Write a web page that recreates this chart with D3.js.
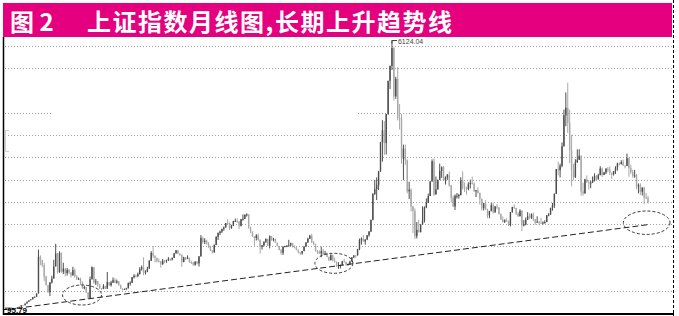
<!DOCTYPE html>
<html>
<head>
<meta charset="utf-8">
<script src="https://cdn.jsdelivr.net/npm/d3@7"></script>
<style>
  html, body { margin: 0; padding: 0; background: #fff; }
  svg { display: block; }
</style>
</head>
<body>
<div id="chart"></div>
<script>
/**
 * 上证指数月线图 (1990-12 .. 2018-12), monthly candles + long-term trend line.
 * One row per year in every array, first row is Dec 1990 alone.
 */

const TITLE_NO = '图 2';
const TITLE = '上证指数月线图,长期上升趋势线';

const opens = [
  96,
  128,130,133,120,114,115,138,145,181,180,219,260,
  293,313,364,371,445,1266,1195,1082,823,631,474,690,
  780,1052,1346,925,1358,935,1007,899,974,918,849,966,
  834,768,777,693,564,588,467,333,762,1033,693,715,
  648,562,549,614,553,700,630,688,741,687,718,628,
  555,537,545,562,678,684,810,843,835,879,986,1032,
  917,934,1003,1179,1354,1292,1243,1170,1165,1097,1180,1179,
  1194,1226,1206,1243,1343,1411,1339,1316,1151,1253,1217,1248,
  1147,1135,1090,1158,1120,1279,1689,1601,1627,1557,1496,1412,
  1367,1535,1715,1800,1836,1894,1928,2023,2021,1910,1961,2070,
  2073,2066,1960,2112,2119,2214,2218,1920,1834,1724,1690,1747,
  1646,1491,1524,1603,1667,1515,1732,1649,1670,1581,1507,1420,
  1357,1499,1511,1511,1521,1576,1487,1477,1421,1367,1348,1397,
  1497,1590,1675,1741,1595,1555,1399,1386,1342,1396,1320,1340,
  1266,1191,1306,1181,1159,1060,1080,1083,1162,1155,1092,1099,
  1161,1258,1299,1298,1440,1641,1672,1612,1658,1752,1837,2099,
  2675,2786,2881,3183,3841,4109,3820,4471,5218,5552,5955,4871,
  5262,4383,4348,3472,3693,3433,2736,2775,2397,2293,1729,1872,
  1821,1991,2082,2373,2477,2632,2959,3412,2667,2779,2996,3195,
  3277,2989,3051,3109,2870,2592,2398,2637,2638,2656,2979,2820,
  2808,2790,2905,2928,2911,2743,2762,2701,2567,2359,2468,2333,
  2199,2292,2428,2263,2396,2373,2225,2103,2047,2086,2069,1980,
  2269,2385,2365,2237,2178,2301,1979,1994,2098,2175,2141,2220,
  2116,2033,2056,2033,2026,2039,2048,2201,2217,2364,2420,2683,
  3235,3210,3310,3748,4442,4612,4277,3664,3206,3053,3383,3445,
  3539,2738,2688,3004,2938,2917,2930,2979,3085,3005,3100,3250,
  3104,3159,3242,3223,3155,3117,3192,3273,3361,3349,3393,3317,
  3307,3481,3259,3169,3082,3095,2847,2876,2725,2821,2603,2588,
];

const highs = [
  128,
  135,134,134,121,115,138,146,181,182,219,260,293,
  313,364,377,445,1429,1300,1199,1132,841,635,704,843,
  1200,1559,1350,1392,1360,1134,1009,1016,992,920,1044,1004,
  856,802,800,715,620,592,470,823,1052,1036,771,727,
  650,563,654,617,927,702,729,804,790,757,721,643,
  557,555,572,690,717,813,877,871,914,1035,1072,1258,
  966,1044,1193,1394,1510,1300,1248,1230,1174,1220,1197,1204,
  1261,1226,1252,1355,1420,1422,1347,1316,1269,1264,1300,1250,
  1181,1149,1167,1170,1280,1756,1720,1684,1652,1597,1513,1414,
  1547,1728,1813,1854,1897,1948,2026,2114,2042,1986,2076,2125,
  2132,2071,2113,2219,2216,2245,2227,1945,1835,1729,1776,1787,
  1660,1532,1617,1681,1673,1748,1735,1693,1675,1586,1513,1444,
  1500,1513,1534,1649,1583,1578,1526,1485,1434,1371,1398,1507,
  1595,1695,1760,1783,1622,1560,1419,1412,1496,1444,1400,1362,
  1271,1327,1316,1252,1160,1147,1095,1178,1223,1158,1116,1181,
  1259,1303,1305,1445,1678,1705,1757,1659,1756,1841,2100,2698,
  2994,3050,3198,3848,4335,4312,4471,5219,5562,6124.04,5985,5309,
  5523,4696,4473,3786,3787,3454,2953,2800,2414,2355,2050,2100,
  2000,2402,2400,2579,2688,2967,3455,3478,3068,3000,3361,3297,
  3306,3072,3124,3181,2882,2643,2667,2700,2681,3054,3186,2938,
  2847,2940,3000,3067,2935,2770,2827,2708,2577,2480,2537,2346,
  2300,2479,2478,2409,2453,2382,2243,2174,2110,2133,2083,2276,
  2392,2444,2366,2269,2334,2315,2093,2149,2270,2243,2243,2260,
  2118,2177,2072,2146,2061,2087,2202,2248,2369,2476,2685,3239,
  3406,3358,3835,4572,4958,5178,4572,4006,3356,3459,3679,3684,
  3539,2931,3019,3097,2992,2967,3070,3140,3102,3133,3301,3271,
  3174,3261,3284,3295,3157,3192,3301,3379,3390,3436,3450,3321,
  3587,3495,3333,3220,3219,3129,2916,2915,2827,2838,2703,2640,
];

const lows = [
  95.79,
  127,129,120,105,104,115,137,145,179,180,219,259,
  292,313,364,371,445,1077,1035,722,626,456,387,668,
  780,1050,890,908,910,881,827,846,884,801,849,796,
  744,749,633,547,536,456,326,333,762,661,636,595,
  540,524,543,546,543,613,600,683,676,666,622,547,
  512,525,528,556,621,680,781,804,808,870,960,855,
  870,924,1000,1175,1239,1144,1142,1142,1025,1091,1122,1134,
  1173,1170,1185,1240,1341,1326,1285,1043,1144,1195,1216,1131,
  1104,1065,1068,1099,1048,1270,1563,1556,1541,1470,1399,1342,
  1361,1530,1645,1755,1801,1852,1925,2000,1874,1898,1958,2050,
  2031,1893,1949,2079,2117,2171,1902,1797,1714,1514,1635,1628,
  1339,1430,1502,1580,1510,1456,1628,1615,1579,1503,1415,1311,
  1311,1478,1486,1501,1515,1478,1460,1413,1346,1307,1316,1393,
  1496,1581,1666,1573,1531,1387,1331,1330,1259,1316,1310,1259,
  1177,1188,1166,1135,1044,998,1005,1078,1148,1067,1074,1097,
  1161,1242,1245,1297,1418,1541,1606,1541,1640,1720,1822,2086,
  2657,2541,2767,3175,3404,3555,3563,4456,5032,5462,4778,4812,
  4330,4123,3357,2990,3333,2692,2566,2284,1802,1665,1679,1814,
  1816,1990,2037,2359,2475,2631,2958,2639,2665,2778,2996,3039,
  2986,2890,2995,2837,2481,2383,2319,2574,2573,2643,2774,2722,
  2662,2760,2803,2890,2721,2610,2688,2437,2307,2307,2320,2135,
  2132,2291,2242,2261,2337,2216,2101,2040,2029,2058,1959,1949,
  2257,2343,2205,2161,2176,1849,1951,1974,2098,2120,2119,2068,
  1984,2033,1974,2014,1992,2010,2045,2177,2209,2302,2366,2675,
  3095,3050,3278,3744,4198,4048,3373,2850,2983,3039,3383,3440,
  2638,2638,2688,2932,2781,2808,2929,2960,2969,3003,3099,3057,
  3102,3125,3165,3102,3017,3092,3128,3202,3320,3340,3310,3254,
  3307,3062,3123,3041,3041,2783,2691,2653,2644,2449,2564,2462,
];

const closes = [
  128,
  130,133,120,114,115,138,145,181,180,219,260,293,
  313,364,371,445,1266,1195,1082,823,631,474,690,780,
  1052,1346,925,1358,935,1007,899,974,918,849,966,834,
  768,777,693,564,588,467,333,762,1033,693,715,648,
  562,549,614,553,700,630,688,741,687,718,628,555,
  537,545,562,678,684,810,843,835,879,986,1032,917,
  934,1003,1179,1354,1292,1243,1170,1165,1097,1180,1179,1194,
  1226,1206,1243,1343,1411,1339,1316,1151,1253,1217,1248,1147,
  1135,1090,1158,1120,1279,1689,1601,1627,1557,1496,1412,1367,
  1535,1715,1800,1836,1894,1928,2023,2021,1910,1961,2070,2073,
  2066,1960,2112,2119,2214,2218,1920,1834,1724,1690,1747,1646,
  1491,1524,1603,1667,1515,1732,1649,1670,1581,1507,1420,1357,
  1499,1511,1511,1521,1576,1487,1477,1421,1367,1348,1397,1497,
  1590,1675,1741,1595,1555,1399,1386,1342,1396,1320,1340,1266,
  1191,1306,1181,1159,1060,1080,1083,1162,1155,1092,1099,1161,
  1258,1299,1298,1440,1641,1672,1612,1658,1752,1837,2099,2675,
  2786,2881,3183,3841,4109,3820,4471,5218,5552,5955,4871,5262,
  4383,4348,3472,3693,3433,2736,2775,2397,2293,1729,1872,1821,
  1991,2082,2373,2477,2632,2959,3412,2667,2779,2996,3195,3277,
  2989,3051,3109,2870,2592,2398,2637,2638,2656,2979,2820,2808,
  2790,2905,2928,2911,2743,2762,2701,2567,2359,2468,2333,2199,
  2292,2428,2263,2396,2373,2225,2103,2047,2086,2069,1980,2269,
  2385,2365,2237,2178,2301,1979,1994,2098,2175,2141,2220,2116,
  2033,2056,2033,2026,2039,2048,2201,2217,2364,2420,2683,3235,
  3210,3310,3748,4442,4612,4277,3664,3206,3053,3383,3445,3539,
  2738,2688,3004,2938,2917,2930,2979,3085,3005,3100,3250,3104,
  3159,3242,3223,3155,3117,3192,3273,3361,3349,3393,3317,3307,
  3481,3259,3169,3082,3095,2847,2876,2725,2821,2603,2588,2494,
];

// dotted horizontal levels that show in the print (1000 and 5000 are absent)
const gridLevels = [500, 1500, 2000, 2500, 3000, 3500, 4000, 4500, 5500, 6000];

// trend line anchors (month index, index value)
const trendLine = [{ m: 1, v: 85 }, { m: 337, v: 1995 }];

// the three circled spots: 1994 low, 2005 low, 2018 test of the trend line
const circled = [{ m: 39.8, v: 410 }, { m: 171.6, v: 1122 }, { m: 335.3, v: 2033 }];
const CIRCLE_R = [[19.5, 10], [19, 10], [23.3, 11.7]];

const UP_COLOR   = '#4e4e4e';
const DOWN_COLOR = '#a8a8a8';

const W = 679, H = 316;

const svg = d3.select('#chart').append('svg').attr('width', W).attr('height', H);
svg.append('rect').attr('width', W).attr('height', H).attr('fill', '#fff');

// Header band
svg.append('rect').attr('x', 3).attr('y', 3).attr('width', 669).attr('height', 34).attr('fill', '#e4007f');
const titleFont = '"Noto Sans CJK SC", "Noto Sans", sans-serif';
svg.append('text').attr('x', 10).attr('y', 20).attr('dominant-baseline', 'central')
  .attr('fill', '#fff').style('font-family', titleFont).style('font-weight', 700).style('font-size', '24px')
  .text(TITLE_NO);
svg.append('text').attr('x', 87).attr('y', 20).attr('dominant-baseline', 'central')
  .attr('textLength', 365).attr('lengthAdjust', 'spacing')
  .attr('fill', '#fff').style('font-family', titleFont).style('font-weight', 700).style('font-size', '24px')
  .text(TITLE);

// Scales: one slot per month, linear price axis
const x = d3.scaleLinear().domain([0, closes.length - 1]).range([6, 648]);
const y = d3.scaleLinear().domain([500, 6000]).range([291, 46]);

// Grid
const grid = svg.append('g').attr('stroke', '#a0a0a0').attr('stroke-dasharray', '1,2').attr('stroke-width', 1);
gridLevels.forEach(v => {
  const gy = Math.round(y(v)) + 0.5;
  if (v === 4500) {
    // this one is broken in the print
    grid.append('line').attr('x1', 5).attr('x2', 52).attr('y1', gy).attr('y2', gy);
    grid.append('line').attr('x1', 358).attr('x2', 672).attr('y1', gy).attr('y2', gy);
  } else {
    grid.append('line').attr('x1', 5).attr('x2', 672).attr('y1', gy).attr('y2', gy);
  }
});

// faint bracket mark on the left edge
svg.append('path').attr('d', 'M9,130.5H5.5V151.5H9').attr('fill', 'none').attr('stroke', '#cfcfcf');

// Candles
const months = d3.range(closes.length);
const candles = svg.append('g');
candles.selectAll('line')
  .data(months)
  .join('line')
  .attr('x1', i => x(i)).attr('x2', i => x(i))
  .attr('y1', i => y(highs[i])).attr('y2', i => y(lows[i]))
  .attr('stroke', i => closes[i] >= opens[i] ? UP_COLOR : DOWN_COLOR)
  .attr('stroke-width', 1);
candles.selectAll('rect')
  .data(months)
  .join('rect')
  .attr('x', i => x(i) - 0.7)
  .attr('width', 1.4)
  .attr('y', i => y(Math.max(opens[i], closes[i])))
  .attr('height', i => Math.max(1, Math.abs(y(opens[i]) - y(closes[i]))))
  .attr('fill', i => closes[i] >= opens[i] ? UP_COLOR : DOWN_COLOR);

// Trend line
svg.append('line')
  .attr('x1', x(trendLine[0].m)).attr('y1', y(trendLine[0].v))
  .attr('x2', x(trendLine[1].m)).attr('y2', y(trendLine[1].v))
  .attr('stroke', '#222').attr('stroke-width', 1).attr('stroke-dasharray', '6,3');

// Circled spots
svg.append('g').selectAll('ellipse')
  .data(circled)
  .join('ellipse')
  .attr('cx', d => x(d.m)).attr('cy', d => y(d.v))
  .attr('rx', (d, k) => CIRCLE_R[k][0]).attr('ry', (d, k) => CIRCLE_R[k][1])
  .attr('fill', 'none').attr('stroke', '#222').attr('stroke-width', 0.9).attr('stroke-dasharray', '3,2');

// High / low marks
const labelFont = '"Liberation Sans", Arial, sans-serif';
const hiIdx = d3.maxIndex(highs);
const hiY = Math.round(y(highs[hiIdx])) + 0.5;
svg.append('path').attr('d', `M${x(hiIdx)},${hiY + 3}V${hiY}H${x(hiIdx) + 5}`).attr('fill', 'none').attr('stroke', '#444');
svg.append('text').attr('x', x(hiIdx) + 6).attr('y', hiY + 0.8).attr('dominant-baseline', 'central')
  .attr('fill', '#444').style('font-family', labelFont).style('font-size', '7px')
  .text(highs[hiIdx].toFixed(2));

const loIdx = d3.minIndex(lows);
const loY = Math.round(y(lows[loIdx])) + 0.5;
svg.append('line').attr('x1', 3).attr('x2', x(loIdx) + 1).attr('y1', loY).attr('y2', loY).attr('stroke', '#000');
svg.append('text').attr('x', x(loIdx) + 1).attr('y', loY + 0.5).attr('dominant-baseline', 'central')
  .attr('fill', '#000').style('font-family', labelFont).style('font-weight', 700).style('font-size', '8px')
  .text(lows[loIdx].toFixed(2));

// Frame: left + bottom solid, right dashed
svg.append('line').attr('x1', 3.5).attr('x2', 3.5).attr('y1', 37).attr('y2', 315).attr('stroke', '#000').attr('stroke-width', 1.5);
svg.append('line').attr('x1', 3).attr('x2', 674).attr('y1', 314).attr('y2', 314).attr('stroke', '#000').attr('stroke-width', 2);
svg.append('line').attr('x1', 673.5).attr('x2', 673.5).attr('y1', 0).attr('y2', H)
  .attr('stroke', '#000').attr('stroke-width', 1).attr('stroke-dasharray', '3,2');
</script>
</body>
</html>
